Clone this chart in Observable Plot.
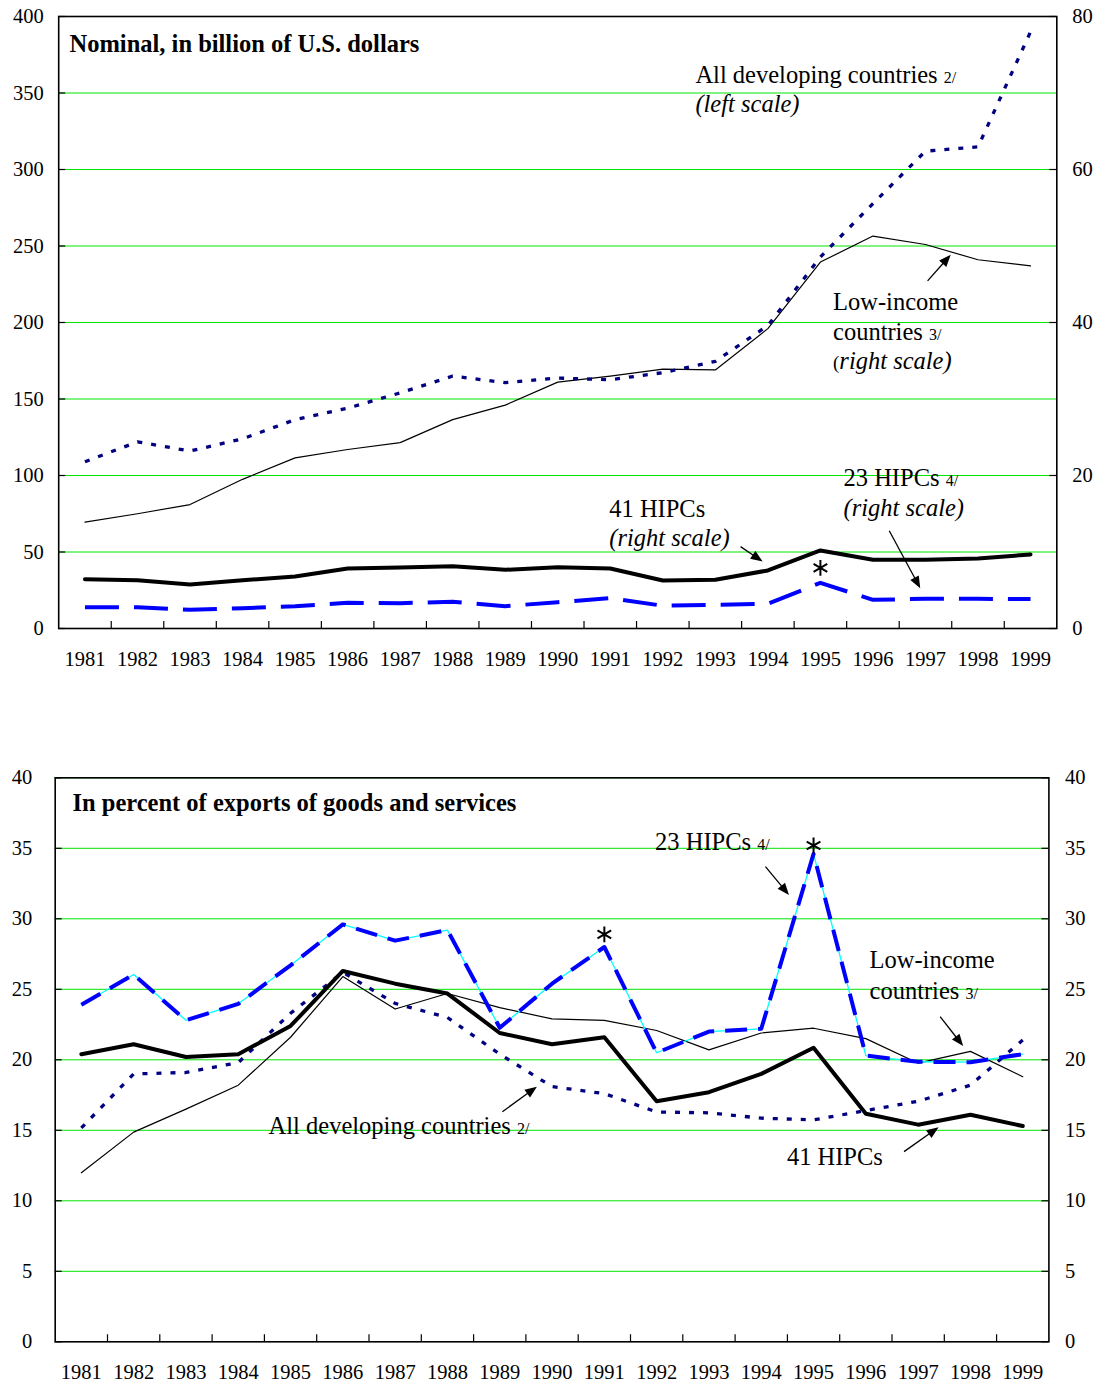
<!DOCTYPE html>
<html><head><meta charset="utf-8">
<script src="https://cdn.jsdelivr.net/npm/d3@7"></script>
<script src="https://cdn.jsdelivr.net/npm/@observablehq/plot@0.6"></script>
<style>
body{margin:0;background:#fff;}
#top,#bottom{position:absolute;left:0;}
#top{top:0}
#bottom{top:700px}
svg, svg text{font-family:"Liberation Serif","Times New Roman",serif;}
</style></head><body>
<div id="top"></div><div id="bottom"></div>
<script>
// ---------- categories ----------
const years = [1981,1982,1983,1984,1985,1986,1987,1988,1989,1990,1991,1992,1993,1994,1995,1996,1997,1998,1999];

// ---------- top panel: nominal, billions of US$ ----------
const topAllDevLeft = [109,122,116,124,136.5,144,154,165,160.7,163.7,162.6,167.2,174.6,198,242.8,277.7,312,314.8,390];
const topLowIncomeRight = [13.9,15.0,16.2,19.5,22.3,23.4,24.3,27.3,29.2,32.2,33.0,33.9,33.8,39.2,47.9,51.3,50.2,48.2,47.4];
const top41HipcRight = [6.45,6.3,5.75,6.3,6.8,7.85,7.98,8.15,7.67,8.0,7.85,6.28,6.37,7.59,10.2,8.98,8.98,9.15,9.68];
const top23HipcRight = [2.79,2.79,2.44,2.66,2.92,3.36,3.31,3.49,2.92,3.44,3.97,2.97,3.1,3.23,5.97,3.75,3.88,3.88,3.84];
const topLeftTicks = [0,50,100,150,200,250,300,350,400];
const topRightTicks = [0,20,40,60,80];

// ---------- bottom panel: percent of exports ----------
const bot23Hipc = [23.9,26.05,22.8,23.97,26.7,29.6,28.45,29.2,22.27,25.4,28.0,20.5,22.0,22.2,34.6,20.3,19.86,19.83,20.4];
const bot41Hipc = [20.4,21.1,20.2,20.4,22.4,26.3,25.4,24.7,21.9,21.1,21.6,17.06,17.7,19.0,20.85,16.17,15.4,16.1,15.3];
const botLowIncome = [11.99,14.87,16.5,18.2,21.6,25.9,23.6,24.7,23.7,22.9,22.8,22.08,20.7,21.9,22.24,21.5,19.76,20.6,18.8];
const botAllDev = [15.17,19.0,19.1,19.8,23.3,26.2,24.0,23.0,20.4,18.1,17.6,16.3,16.24,15.86,15.74,16.4,17.06,18.2,21.4];
const botTicks = [0,5,10,15,20,25,30,35,40];

// ---------- annotations (data coordinates) ----------
const topTexts = [
  {x:1980.715, y:376.3, parts:[["Nominal, in billion of U.S. dollars","b"]]},
  {x:1992.63, y:356.2, parts:[["All developing countries ",""],["2/","s"]]},
  {x:1992.63, y:337.1, parts:[["(left scale)","i"]]},
  {x:1995.25, y:208.0, parts:[["Low-income",""]]},
  {x:1995.25, y:188.4, parts:[["countries ",""],["3/","s"]]},
  {x:1995.25, y:169.1, parts:[["(","p"],["right scale)","i"]]},
  {x:1995.45, y:92.9, parts:[["23 HIPCs ",""],["4/","s"]]},
  {x:1995.45, y:73.3, parts:[["(right scale)","i"]]},
  {x:1990.99, y:72.8, parts:[["41 HIPCs",""]]},
  {x:1990.99, y:53.6, parts:[["(right scale)","i"]]}
];
const topArrows = [
  [1997.05,226.9,1997.49,243.9],
  [1996.32,63.6,1996.91,26.0],
  [1993.49,53.2,1993.91,43.4]
];
const topStars = [{x:1995, y:39.6}];

const botTexts = [
  {x:1980.84, y:37.63, parts:[["In percent of exports of goods and services","b"]]},
  {x:1991.98, y:34.84, parts:[["23 HIPCs ",""],["4/","s"]]},
  {x:1996.08, y:26.45, parts:[["Low-income",""]]},
  {x:1996.08, y:24.26, parts:[["countries ",""],["3/","s"]]},
  {x:1984.59, y:14.68, parts:[["All developing countries ",""],["2/","s"]]},
  {x:1994.50, y:12.50, parts:[["41 HIPCs",""]]}
];
const botArrows = [
  [1994.09,33.66,1994.54,31.65],
  [1997.43,23.02,1997.87,20.94],
  [1989.06,16.28,1989.72,18.06],
  [1996.74,13.45,1997.40,15.18]
];
const botStars = [{x:1991, y:28.9},{x:1995, y:35.2}];

// ---------- helpers ----------
const FONT = '"Liberation Serif","Times New Roman",serif';
const GREEN = "#00e600";
const NAVY = "#000080";
const BLUE = "#0000ff";
const FS = 24.5;
const DOT = "5,9";
const rows = arr => years.map((year, i) => ({year, v: arr[i]}));
const bounds = years.slice(0, -1).map(y => y + 0.5);
const axisText = {fontFamily: FONT, fontSize: 20.5, fontVariant: "normal", fill: "black"};

function annotate(texts, arrows) {
  return (index, scales) => {
    const X = scales.x, Y = scales.y;
    const g = d3.create("svg:g").attr("text-anchor", "start");
    for (const t of texts) {
      const el = g.append("text").attr("x", X(t.x)).attr("y", Y(t.y))
        .attr("text-anchor", "start").attr("font-family", FONT)
        .attr("font-size", FS).attr("fill", "black");
      for (const [s, st] of t.parts) {
        const sp = el.append("tspan").text(s);
        if (st === "b") sp.attr("font-weight", "bold");
        if (st === "i") sp.attr("font-style", "italic");
        if (st === "s") sp.attr("font-size", 16);
        if (st === "p") sp.attr("font-size", 19);
      }
    }
    for (const [x1, y1, x2, y2] of arrows) {
      const ax = X(x1), ay = Y(y1), bx = X(x2), by = Y(y2);
      const dx = bx - ax, dy = by - ay, len = Math.hypot(dx, dy);
      const ux = dx / len, uy = dy / len, nx = -uy, ny = ux;
      const L = 12, w = 4.8;
      g.append("line").attr("x1", ax).attr("y1", ay)
        .attr("x2", bx - ux * L * 0.8).attr("y2", by - uy * L * 0.8)
        .attr("stroke", "black").attr("stroke-width", 1.3);
      g.append("path")
        .attr("d", `M${bx},${by}L${bx - ux*L + nx*w},${by - uy*L + ny*w}L${bx - ux*L - nx*w},${by - uy*L - ny*w}Z`)
        .attr("fill", "black");
    }
    return g.node();
  };
}

// ---------- top chart ----------
const k = topLeftTicks[topLeftTicks.length - 1] / topRightTicks[topRightTicks.length - 1];
const topH = 700, topMT = 16, topMB = 72, topML = 58.2, topMR = 1099 - 1056.3;
const topPW = 1099 - topML - topMR, topPH = topH - topMT - topMB;

const topPlot = Plot.plot({
  width: 1099, height: topH,
  marginTop: topMT, marginBottom: topMB, marginLeft: topML, marginRight: topMR,
  style: {fontFamily: FONT, fontSize: "20.5px", background: "white", color: "black", overflow: "visible"},
  x: {type: "linear", domain: [1980.5, 1999.5]},
  y: {domain: [0, 400]},
  marks: [
    Plot.ruleY(topLeftTicks.slice(1), {stroke: GREEN, strokeWidth: 1}),
    Plot.line(rows(topLowIncomeRight), {x: "year", y: d => d.v * k, stroke: "black", strokeWidth: 1.2}),
    Plot.line(rows(topAllDevLeft), {x: "year", y: "v", stroke: NAVY, strokeWidth: 3.3, strokeDasharray: DOT, strokeLinecap: "butt", strokeLinejoin: "miter"}),
    Plot.line(rows(top41HipcRight), {x: "year", y: d => d.v * k, stroke: "black", strokeWidth: 4, strokeLinejoin: "round"}),
    Plot.line(rows(top23HipcRight), {x: "year", y: d => d.v * k, stroke: BLUE, strokeWidth: 4, strokeDasharray: "34,15", strokeLinecap: "butt"}),
    Plot.ruleX(bounds, {stroke: "black", strokeWidth: 1.2, insetTop: topPH - 7}),
    Plot.ruleY(topLeftTicks, {stroke: "black", strokeWidth: 1.2, insetRight: topPW - 7}),
    Plot.ruleY(topRightTicks.map(v => v * k), {stroke: "black", strokeWidth: 1.2, insetLeft: topPW - 7}),
    Plot.frame({stroke: "black", strokeWidth: 1.6}),
    Plot.axisX({ticks: years, tickFormat: d => String(d), tickSize: 0, tickPadding: 23, label: null, ...axisText}),
    Plot.axisY({anchor: "left", ticks: topLeftTicks, tickFormat: d => String(d), tickSize: 0, tickPadding: 15, label: null, ...axisText}),
    Plot.axisY({anchor: "right", ticks: topRightTicks.map(v => v * k), tickFormat: d => String(d / k), tickSize: 0, tickPadding: 15.5, label: null, ...axisText}),
    Plot.dot(topStars, {x: "x", y: "y", symbol: "asterisk", r: 7.5, stroke: "black", strokeWidth: 2}),
    annotate(topTexts, topArrows)
  ]
});
document.getElementById("top").append(topPlot);

// ---------- bottom chart ----------
const botH = 685, botMT = 77.3, botMB = 43.7, botML = 54.7, botMR = 1099 - 1048.4;
const botPW = 1099 - botML - botMR, botPH = botH - botMT - botMB;

const botPlot = Plot.plot({
  width: 1099, height: botH,
  marginTop: botMT, marginBottom: botMB, marginLeft: botML, marginRight: botMR,
  style: {fontFamily: FONT, fontSize: "20.5px", background: "white", color: "black", overflow: "visible"},
  x: {type: "linear", domain: [1980.5, 1999.5]},
  y: {domain: [0, 40]},
  marks: [
    Plot.ruleY(botTicks.slice(1), {stroke: GREEN, strokeWidth: 1}),
    Plot.line(rows(botLowIncome), {x: "year", y: "v", stroke: "black", strokeWidth: 1.2}),
    Plot.line(rows(botAllDev), {x: "year", y: "v", stroke: NAVY, strokeWidth: 3.3, strokeDasharray: DOT, strokeLinecap: "butt", strokeLinejoin: "miter"}),
    Plot.line(rows(bot41Hipc), {x: "year", y: "v", stroke: "black", strokeWidth: 4, strokeLinejoin: "round"}),
    Plot.line(rows(bot23Hipc), {x: "year", y: "v", stroke: "#00ffff", strokeWidth: 1.3}),
    Plot.line(rows(bot23Hipc), {x: "year", y: "v", stroke: BLUE, strokeWidth: 4, strokeDasharray: "22,11", strokeLinecap: "butt"}),
    Plot.ruleX(bounds, {stroke: "black", strokeWidth: 1.2, insetTop: botPH - 7}),
    Plot.ruleY(botTicks, {stroke: "black", strokeWidth: 1.2, insetRight: botPW - 7}),
    Plot.ruleY(botTicks, {stroke: "black", strokeWidth: 1.2, insetLeft: botPW - 7}),
    Plot.frame({stroke: "black", strokeWidth: 1.6}),
    Plot.axisX({ticks: years, tickFormat: d => String(d), tickSize: 0, tickPadding: 23, label: null, ...axisText}),
    Plot.axisY({anchor: "left", ticks: botTicks, tickFormat: d => String(d), tickSize: 0, tickPadding: 23, label: null, ...axisText}),
    Plot.axisY({anchor: "right", ticks: botTicks, tickFormat: d => String(d), tickSize: 0, tickPadding: 16, label: null, ...axisText}),
    Plot.dot(botStars, {x: "x", y: "y", symbol: "asterisk", r: 7.5, stroke: "black", strokeWidth: 2}),
    annotate(botTexts, botArrows)
  ]
});
document.getElementById("bottom").append(botPlot);
</script>
</body></html>
